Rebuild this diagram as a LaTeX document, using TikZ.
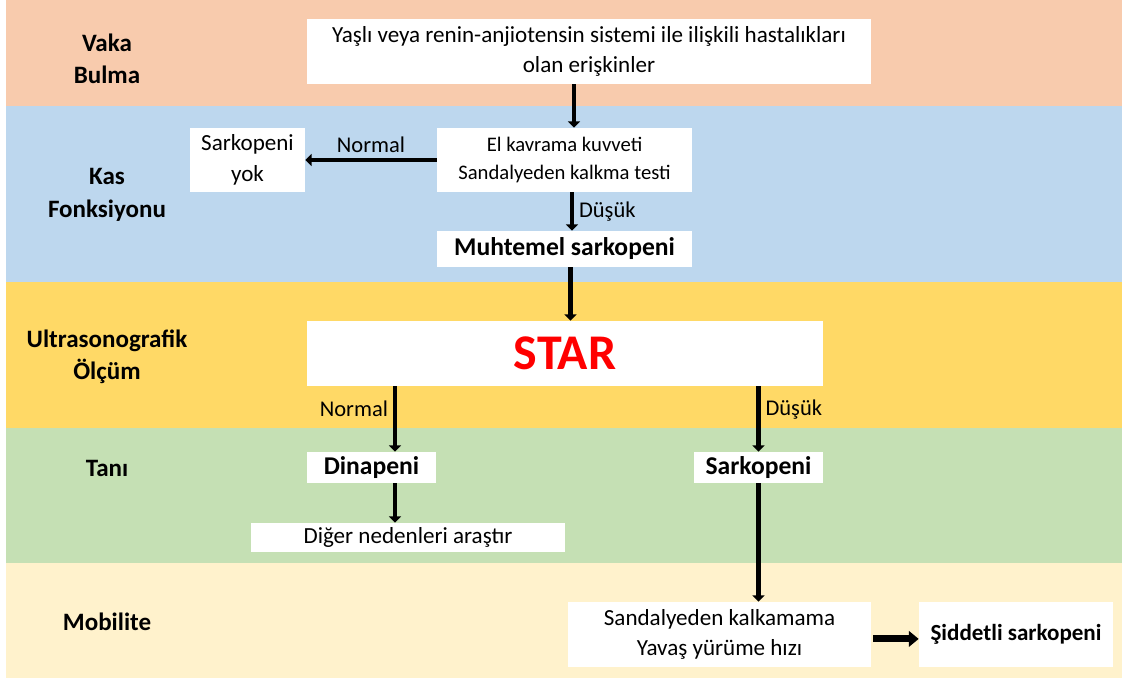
\documentclass[tikz,border=0pt]{standalone}
\usepackage{fontspec}
\setmainfont{Carlito}
\usepackage{xcolor}
\usepackage{tikz}
\usetikzlibrary{positioning,arrows.meta,calc}
\definecolor{findband}{HTML}{F8CBAD}
\definecolor{muscleband}{HTML}{BDD7EE}
\definecolor{usband}{HTML}{FFD966}
\definecolor{diagband}{HTML}{C5E0B4}
\definecolor{mobband}{HTML}{FFF2CC}
\definecolor{starred}{HTML}{FF0000}
\tikzset{
    lane/.style={font=\fontsize{17.8}{23}\selectfont\bfseries, align=center},
    box/.style={rectangle, fill=white, inner sep=0pt, align=center, font=\fontsize{16.4}{21.3}\selectfont},
    keybox/.style={box, font=\fontsize{18.2}{22}\selectfont\bfseries},
    arrow/.style={-{Triangle[width=8.5pt,length=4.5pt]}, line width=3.4pt},
    tag/.style={font=\fontsize{16}{19}\selectfont}
}

\begin{document}
\begin{tikzpicture}[x=0.025cm, y=-0.025cm]
\useasboundingbox (0,0) rectangle (1122,678);

\fill[findband] (6,0) rectangle (1122,106);
\fill[muscleband] (6,106) rectangle (1122,282);
\fill[usband] (6,282) rectangle (1122,428);
\fill[diagband] (6,428) rectangle (1122,563);
\fill[mobband] (6,563) rectangle (1122,678);

\node[lane] (findlbl) at (107,59) {Vaka\\Bulma};
\node[lane] (musclelbl) at (107,195) {Kas\\Fonksiyonu};
\node[lane] (uslbl) at (107,357) {Ultrasonografik\\Ölçüm};
\node[lane] (diaglbl) at (107,468) {Tanı};
\node[lane] (moblbl) at (107,622) {Mobilite};

\node[box, minimum width=14.1cm, minimum height=1.625cm] (case) at (589,51.5) {Yaşlı veya renin-anjiotensin sistemi ile ilişkili hastalıkları\\olan erişkinler};
\node[box, font=\fontsize{14.7}{19.9}\selectfont, minimum width=6.375cm, minimum height=1.6cm] (tests) at (564.5,160) {El kavrama kuvveti\\Sandalyeden kalkma testi};
\node[box, font=\fontsize{16.4}{22}\selectfont, minimum width=2.875cm, minimum height=1.6cm] (nosarc) at (247.5,160) {Sarkopeni\\yok};
\node[keybox, minimum width=6.375cm, minimum height=0.9cm] (probable) at (564.5,249) {Muhtemel sarkopeni};
\node[keybox, font=\fontsize{35.5}{40}\selectfont\bfseries, text=starred, minimum width=12.9cm, minimum height=1.625cm] (star) at (565,353.5) {STAR};
\node[keybox, minimum width=3.225cm, minimum height=0.775cm] (dynap) at (371.5,467.5) {Dinapeni};
\node[box, minimum width=7.85cm, minimum height=0.725cm] (other) at (408,537.5) {Diğer nedenleri araştır};
\node[keybox, minimum width=3.225cm, minimum height=0.775cm] (sarc) at (758.5,467.5) {Sarkopeni};
\node[box, minimum width=7.575cm, minimum height=1.625cm] (mobtest) at (719.5,634.5) {Sandalyeden kalkamama\\Yavaş yürüme hızı};
\node[keybox, font=\fontsize{16.4}{20}\selectfont\bfseries, minimum width=4.85cm, minimum height=1.625cm] (severe) at (1016,634.5) {Şiddetli sarkopeni};

\coordinate (a1) at ([xshift=-0.375cm]case.south);
\coordinate (a2) at ([xshift=0.1875cm]tests.south);
\coordinate (a3) at ([xshift=0.15cm]probable.south);
\coordinate (a4) at ([xshift=0.5875cm]dynap.north);

\draw[arrow] (a1) -- (a1 |- tests.north);
\draw[arrow] (tests.west) -- node[tag, above] {Normal} (nosarc.east);
\draw[arrow] (a2) -- node[tag, right] {Düşük} (a2 |- probable.north);
\draw[arrow] (a3) -- (a3 |- star.north);
\draw[arrow] (a4 |- star.south) -- node[tag, left, pos=0.35] {Normal} (a4);
\draw[arrow] (sarc.north |- star.south) -- node[tag, right, pos=0.35] {Düşük} (sarc.north);
\draw[arrow] (a4 |- dynap.south) -- (a4 |- other.north);
\draw[arrow] (sarc.south) -- (sarc.south |- mobtest.north);
\draw[arrow, line width=5pt, -{Triangle[width=11pt,length=7pt]}] ([xshift=0.05cm,yshift=-0.11cm]mobtest.east) -- ([yshift=-0.11cm]severe.west);

\end{tikzpicture}
\end{document}
